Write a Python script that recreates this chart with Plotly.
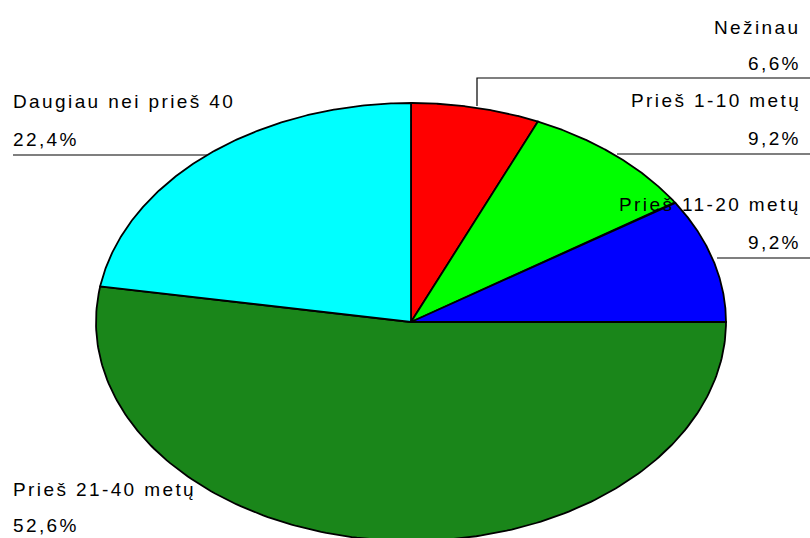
import numpy as np
import plotly.graph_objects as go

# ---- data ----
categories = ["Nežinau", "Prieš 1-10 metų", "Prieš 11-20 metų", "Prieš 21-40 metų", "Daugiau nei prieš 40"]
values = [6.6, 9.2, 9.2, 52.6, 22.4]
colors = ["#ff0000", "#00ff00", "#0000ff", "#1a861a", "#00ffff"]

# ---- geometry (pixel-space layout) ----
W, H = 810, 538
cx, cy, rx, ry = 411, 322, 315, 219

fig = go.Figure()
total = sum(values)
cum = 0.0
for name, v, col in zip(categories, values, colors):
    a0 = 90 - 360 * cum / total
    a1 = 90 - 360 * (cum + v) / total
    cum += v
    t = np.radians(np.linspace(a0, a1, 200))
    xs = np.concatenate([[cx], cx + rx * np.cos(t), [cx]])
    ys = np.concatenate([[cy], cy - ry * np.sin(t), [cy]])
    fig.add_trace(go.Scatter(x=xs, y=ys, mode="lines", fill="toself",
                             fillcolor=col, line=dict(color="black", width=1.8),
                             name=name, hoverinfo="name", showlegend=False))

def fmt(v):
    return f"{v:.1f}".replace(".", ",") + "%"

def spaced(s):
    return f'<span style="letter-spacing:2.4px">{s}</span>'

# label placement: (x, y_name, y_value, anchor)
label_pos = [
    (803, 27, 63, "right"),
    (803, 100, 138, "right"),
    (803, 204, 242, "right"),
    (11, 489, 525, "left"),
    (11, 101, 139, "left"),
]
font = dict(family="Liberation Sans, Arial, sans-serif", size=19, color="black")
for name, v, (lx, yn, yv, anc) in zip(categories, values, label_pos):
    fig.add_annotation(x=lx, y=yn, text=spaced(name), showarrow=False, xanchor=anc,
                       yanchor="middle", font=font, xref="x", yref="y")
    fig.add_annotation(x=lx, y=yv, text=spaced(fmt(v)), showarrow=False, xanchor=anc,
                       yanchor="middle", font=font, xref="x", yref="y")

# leader lines
leaders = [
    [(477, 106), (477, 78), (810, 78)],
    [(617, 154), (810, 154)],
    [(717, 258), (810, 258)],
    [(13, 155), (207, 155)],
]
for pts in leaders:
    fig.add_trace(go.Scatter(x=[p[0] for p in pts], y=[p[1] for p in pts], mode="lines",
                             line=dict(color="black", width=1.2), hoverinfo="skip",
                             showlegend=False))

fig.update_layout(
    width=W, height=H, margin=dict(l=0, r=0, t=0, b=0),
    paper_bgcolor="white", plot_bgcolor="white",
    xaxis=dict(range=[0, W], visible=False, fixedrange=True),
    yaxis=dict(range=[H, 0], visible=False, fixedrange=True),
)
fig.write_html("out.html", config={"displayModeBar": False})
with open("out.html", encoding="utf-8") as f:
    html = f.read()
html = html.replace("<head>", "<head><style>html,body{margin:0;padding:0;overflow:hidden;}</style>", 1)
with open("out.html", "w", encoding="utf-8") as f:
    f.write(html)
